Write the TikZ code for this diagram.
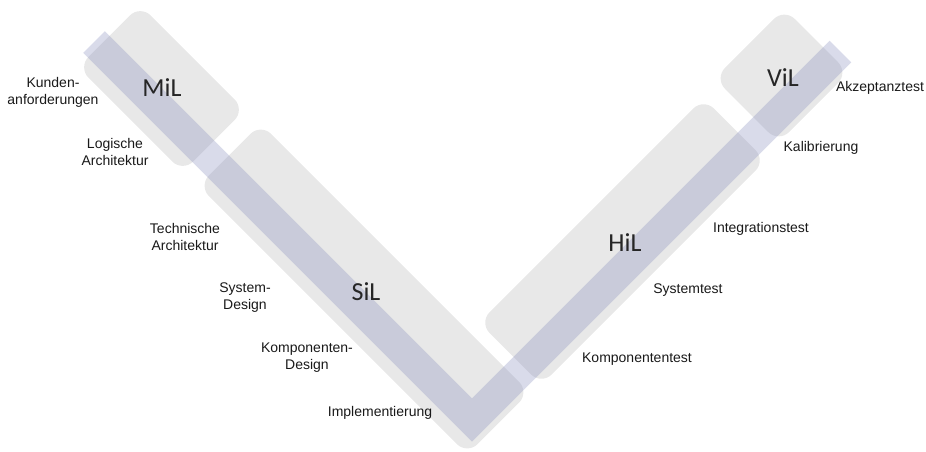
\documentclass[tikz,border=0pt]{standalone}
\usepackage{fontspec}
\setmainfont{Liberation Sans}
\newfontfamily\stagefont{Carlito}
\definecolor{boxgray}{RGB}{232,232,232}
\definecolor{bandblue}{RGB}{136,143,190}
\tikzset{
  stagebox/.style={fill=boxgray, rounded corners=11pt, minimum height=66pt, inner sep=0pt},
  stagelabel/.style={font=\stagefont\fontsize{19.5}{20}\selectfont, text=black!85, inner sep=0pt},
  phase/.style={font=\fontsize{10.5}{12.8}\selectfont, align=center, inner sep=0pt, text=black!90},
  vband/.style={draw=bandblue, draw opacity=0.32, line width=22.9pt, line join=miter, line cap=butt}
}
\begin{document}
\begin{tikzpicture}[x=0.75pt, y=-0.75pt]
\useasboundingbox (0,0) rectangle (926,451);
% grey boxes of the stages
\node[stagebox, rotate=-45, minimum width=111pt] (mil box) at (161.5,88.5) {};
\node[stagebox, rotate=-45, minimum width=285pt] (sil box) at (364,289) {};
\node[stagebox, rotate=45, minimum width=238pt] (hil box) at (622.5,241.5) {};
\node[stagebox, rotate=45, minimum width=74pt, minimum height=68pt] (vil box) at (781.5,75.5) {};
% the V
\coordinate (v left) at (94,42);
\coordinate (v bottom) at (472,420);
\coordinate (v right) at (840.5,51.5);
\draw[vband] (v left) -- (v bottom) -- (v right);
% stage names
\node[stagelabel] (mil) at (162,88) {MiL};
\node[stagelabel] (sil) at (366,292) {SiL};
\node[stagelabel] (hil) at (625,243) {HiL};
\node[stagelabel] (vil) at (783,78) {ViL};
% phases left and right
\foreach \px/\py/\nm/\txt in {53/92/kunden/{Kunden-\\anforderungen},
    115/152/logisch/{Logische\\Architektur}, 185/237/technisch/{Technische\\Architektur},
    245/298/sysdesign/{System-\\Design}, 307/358/kompdesign/{Komponenten-\\Design},
    380/413/impl/{Implementierung}, 637/359/komptest/{Komponententest},
    688/290/systest/{Systemtest}, 761/229/integ/{Integrationstest},
    821/148/kalib/{Kalibrierung}, 880/88/akzept/{Akzeptanztest}} {
  \node[phase] (\nm) at (\px,\py) {\txt};
}
\end{tikzpicture}
\end{document}
